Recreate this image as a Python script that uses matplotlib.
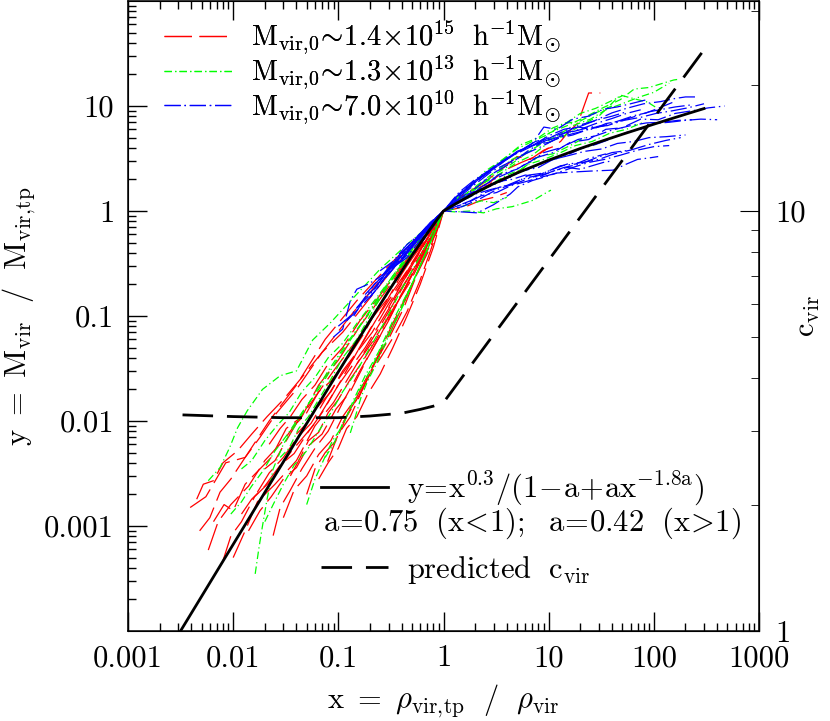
import matplotlib
matplotlib.use("Agg")
import matplotlib.pyplot as plt
from matplotlib.ticker import LogLocator, NullFormatter
from matplotlib.lines import Line2D

plt.rcParams["font.family"] = ["cmr10", "DejaVu Serif"]
plt.rcParams["mathtext.fontset"] = "cm"
plt.rcParams["axes.unicode_minus"] = False
plt.rcParams["axes.formatter.use_mathtext"] = True

# ---- data ----
# black curve y = x^0.3/(1-a+a x^-1.8a)
fit_x = [0.0031, 0.005, 0.01, 0.02, 0.03, 0.05, 0.1, 0.2, 0.3, 0.5, 0.7, 0.85, 1.0,
         1.3, 2, 3, 5, 10, 20, 30, 50, 100, 200, 300]
fit_y = [9.7e-5, 2.13e-4, 6.68e-4, 2.09e-3, 4.08e-3, 9.47e-3, 0.0294, 0.0903, 0.172,
         0.376, 0.614, 0.804, 1.0, 1.171, 1.485, 1.822, 2.30, 3.05, 3.94, 4.53, 5.37,
         6.71, 8.34, 9.45]

# predicted c_vir (right axis)
cvir_x = [0.0033, 0.01, 0.03, 0.1, 0.2, 0.4, 0.6, 0.8, 1.0, 330]
cvir_c = [3.27, 3.24, 3.22, 3.22, 3.25, 3.30, 3.37, 3.43, 3.50, 25.0]

# M_vir,0 ~ 1.4e15 tracks (red)
red_x = [
    [0.0039, 0.0055, 0.0085, 0.013, 0.022, 0.04, 0.075, 0.15, 0.3, 0.55, 1.0],
    [0.0058, 0.0072, 0.0095, 0.014, 0.02, 0.03, 0.05, 0.09, 0.17, 0.33, 0.6, 1.0],
    [0.0079, 0.0095, 0.012, 0.016, 0.022, 0.035, 0.06, 0.1, 0.18, 0.35, 0.65, 1.0],
    [0.01, 0.013, 0.017, 0.025, 0.04, 0.06, 0.09, 0.15, 0.25, 0.45, 0.7, 1.0],
    [0.024, 0.028, 0.035, 0.045, 0.06, 0.08, 0.11, 0.16, 0.25, 0.4, 0.65, 1.0],
    [0.05, 0.06, 0.075, 0.095, 0.12, 0.16, 0.22, 0.32, 0.5, 0.75, 1.0],
    [0.079, 0.1, 0.13, 0.17, 0.22, 0.3, 0.42, 0.6, 0.8, 1.0],
    [0.0048, 0.006, 0.0075, 0.0095, 0.013, 0.018, 0.026, 0.04, 0.07, 0.13, 0.25, 0.5, 1.0],
    [0.012, 0.015, 0.02, 0.028, 0.038, 0.05, 0.07, 0.1, 0.15, 0.24, 0.4, 0.7, 1.0],
    [0.017, 0.022, 0.03, 0.04, 0.055, 0.075, 0.1, 0.14, 0.2, 0.3, 0.5, 0.8, 1.0],
    [0.03, 0.038, 0.05, 0.065, 0.085, 0.11, 0.15, 0.2, 0.28, 0.4, 0.6, 1.0],
    [0.022, 0.028, 0.035, 0.045, 0.06, 0.08, 0.11, 0.16, 0.24, 0.38, 0.6, 1.0],
    [0.04, 0.05, 0.065, 0.085, 0.11, 0.15, 0.21, 0.3, 0.42, 0.6, 0.8, 1.0],
    [0.11, 0.13, 0.16, 0.2, 0.26, 0.34, 0.45, 0.6, 0.8, 1.0],
    [0.15, 0.22, 0.32, 0.48, 0.7, 1.0, 1.5, 2.3, 3.4, 5.0, 6.7, 9, 11, 13, 15, 19, 24, 31],
    [0.3, 0.5, 0.75, 1.0, 1.4, 2, 3, 4.5, 6],
    [0.0065, 0.0082, 0.01, 0.013, 0.017, 0.023, 0.032, 0.045, 0.065, 0.1, 0.16, 0.28, 0.5, 0.75, 1.0],
    [0.0045, 0.0052, 0.0065, 0.008, 0.011, 0.015, 0.021, 0.03, 0.045, 0.07, 0.11, 0.18, 0.32, 0.55, 1.0],
    [0.014, 0.018, 0.023, 0.03, 0.04, 0.052, 0.07, 0.095, 0.13, 0.19, 0.3, 0.5, 0.8, 1.0],
    [0.035, 0.042, 0.052, 0.065, 0.08, 0.1, 0.13, 0.17, 0.23, 0.32, 0.45, 0.65, 1.0],
    [0.065, 0.08, 0.1, 0.12, 0.15, 0.19, 0.25, 0.33, 0.45, 0.6, 0.8, 1.0],
    [0.02, 0.025, 0.032, 0.04, 0.05, 0.065, 0.085, 0.12, 0.17, 0.25, 0.38, 0.6, 1.0],
    [0.2, 0.3, 0.45, 0.7, 1.0, 1.4, 2, 2.8, 4, 5.5, 7.5, 10],
    [0.4, 0.6, 0.8, 1.0, 1.3, 1.7, 2.2, 3, 4],
]
red_y = [
    [0.0015, 0.0019, 0.0040, 0.0045, 0.010, 0.022, 0.06, 0.14, 0.3, 0.55, 1.0],
    [0.00059, 0.0011, 0.0016, 0.0024, 0.0042, 0.0065, 0.013, 0.03, 0.07, 0.2, 0.45, 1.0],
    [0.00045, 0.0008, 0.0011, 0.0019, 0.0026, 0.005, 0.0095, 0.022, 0.05, 0.15, 0.4, 1.0],
    [0.0005, 0.0009, 0.0017, 0.0025, 0.0042, 0.009, 0.015, 0.035, 0.08, 0.22, 0.5, 1.0],
    [0.00081, 0.0015, 0.0022, 0.0035, 0.0055, 0.008, 0.015, 0.03, 0.065, 0.16, 0.4, 1.0],
    [0.002, 0.0035, 0.005, 0.0065, 0.011, 0.018, 0.035, 0.08, 0.2, 0.45, 1.0],
    [0.0041, 0.0075, 0.011, 0.02, 0.035, 0.06, 0.12, 0.3, 0.55, 1.0],
    [0.0009, 0.0012, 0.0021, 0.0028, 0.0045, 0.007, 0.012, 0.02, 0.045, 0.1, 0.22, 0.5, 1.0],
    [0.0013, 0.0018, 0.0024, 0.0038, 0.0049, 0.0075, 0.012, 0.022, 0.045, 0.1, 0.25, 0.6, 1.0],
    [0.0021, 0.0032, 0.0045, 0.0068, 0.0095, 0.016, 0.025, 0.04, 0.075, 0.14, 0.3, 0.7, 1.0],
    [0.0012, 0.0022, 0.003, 0.0048, 0.0065, 0.011, 0.017, 0.03, 0.055, 0.12, 0.3, 1.0],
    [0.006, 0.0085, 0.011, 0.016, 0.022, 0.035, 0.05, 0.09, 0.15, 0.28, 0.5, 1.0],
    [0.0075, 0.0095, 0.014, 0.019, 0.03, 0.045, 0.07, 0.13, 0.22, 0.38, 0.6, 1.0],
    [0.0095, 0.013, 0.018, 0.028, 0.042, 0.065, 0.11, 0.22, 0.5, 1.0],
    [0.035, 0.06, 0.11, 0.21, 0.45, 1.0, 1.4, 1.8, 2.4, 3.3, 3.1, 3.8, 4.1, 4.6, 5.5, 6.9, 13.3, 13.3],
    [0.12, 0.3, 0.6, 1.0, 1.25, 1.5, 1.9, 2.2, 2.6],
    [0.0011, 0.0016, 0.0014, 0.0025, 0.0033, 0.0045, 0.0085, 0.011, 0.022, 0.038, 0.08, 0.17, 0.4, 0.65, 1.0],
    [0.0018, 0.0025, 0.0027, 0.004, 0.0052, 0.0075, 0.011, 0.016, 0.026, 0.045, 0.07, 0.13, 0.27, 0.5, 1.0],
    [0.0009, 0.0014, 0.0019, 0.0028, 0.0036, 0.0058, 0.0075, 0.013, 0.019, 0.04, 0.09, 0.25, 0.62, 1.0],
    [0.003, 0.0042, 0.0065, 0.0078, 0.012, 0.016, 0.025, 0.037, 0.06, 0.11, 0.2, 0.4, 1.0],
    [0.0028, 0.004, 0.0055, 0.0085, 0.011, 0.018, 0.028, 0.05, 0.1, 0.2, 0.45, 1.0],
    [0.0035, 0.0042, 0.0065, 0.0095, 0.012, 0.019, 0.024, 0.038, 0.065, 0.13, 0.25, 0.5, 1.0],
    [0.09, 0.15, 0.27, 0.55, 1.0, 1.2, 1.6, 1.9, 2.5, 2.9, 3.3, 4.0],
    [0.22, 0.42, 0.7, 1.0, 1.05, 1.12, 1.25, 1.35, 1.5],
]

# M_vir,0 ~ 1.3e13 tracks (green)
green_x = [
    [0.0058, 0.0075, 0.0092, 0.011, 0.0136, 0.019, 0.028, 0.04, 0.057, 0.084, 0.14, 0.25,
     0.45, 0.7, 1.0, 1.4, 2, 3, 4.5, 7, 10, 15, 22, 32, 48, 65, 90, 125, 155, 175],
    [0.0162, 0.0175, 0.019, 0.021, 0.024, 0.03, 0.04, 0.055, 0.08, 0.12, 0.2, 0.35, 0.6,
     1.0, 1.5, 2.2, 3.3, 5, 7, 10, 14, 20, 30, 48, 70, 87, 103],
    [0.0095, 0.012, 0.015, 0.019, 0.025, 0.033, 0.045, 0.065, 0.1, 0.16, 0.27, 0.45, 0.7,
     1.0, 1.3, 1.8, 2.4, 3.2, 4.5, 6, 7.2, 9, 10.5],
    [0.13, 0.145, 0.165, 0.19, 0.23, 0.28, 0.35, 0.45, 0.6, 0.8, 1.0, 1.3, 1.8, 2.7, 4,
     5.5, 8, 11, 16, 22],
    [0.05, 0.06, 0.072, 0.088, 0.11, 0.14, 0.18, 0.24, 0.33, 0.5, 0.75, 1.0, 1.4, 2, 3,
     4.2, 6, 8, 12, 17, 25, 35, 50, 70, 100, 140],
    [0.028, 0.034, 0.042, 0.052, 0.065, 0.085, 0.11, 0.15, 0.21, 0.3, 0.45, 0.7, 1.0, 1.3,
     1.7, 2.3, 3, 4],
    [0.012, 0.015, 0.02, 0.026, 0.034, 0.045, 0.06, 0.08, 0.11, 0.15, 0.22, 0.33, 0.5,
     0.75, 1.0, 1.4, 2, 2.8, 4, 5.5, 8, 11, 15, 20, 28, 38, 50],
    [0.075, 0.09, 0.11, 0.13, 0.16, 0.2, 0.25, 0.32, 0.42, 0.55, 0.75, 1.0, 1.4, 2, 3,
     4.5, 6.5, 9, 13, 18, 26, 38, 55, 80],
    [0.02, 0.024, 0.03, 0.038, 0.05, 0.065, 0.085, 0.11, 0.15, 0.2, 0.28, 0.4, 0.6, 1.0,
     1.3, 1.8, 2.5, 3.5, 5, 7, 10, 14, 20, 28, 40],
]
green_y = [
    [0.0027, 0.0036, 0.0055, 0.0086, 0.0125, 0.02, 0.027, 0.03, 0.059, 0.086, 0.15, 0.28,
     0.48, 0.7, 1.0, 1.3, 1.7, 2.3, 3.1, 3.8, 5.5, 6.5, 7.8, 9.5, 11.5, 14.5, 15, 16.6, 17.7, 18],
    [0.00035, 0.0006, 0.001, 0.0018, 0.0035, 0.006, 0.0095, 0.016, 0.03, 0.055, 0.11, 0.25,
     0.55, 1.0, 1.35, 1.75, 2.2, 2.9, 3.4, 4.5, 5.2, 6.5, 8.0, 12.7, 11.5, 10.9, 9.8],
    [0.0013, 0.0017, 0.0024, 0.0033, 0.0052, 0.0075, 0.012, 0.02, 0.04, 0.08, 0.18, 0.38,
     0.65, 1.0, 0.98, 1.0, 0.96, 1.05, 1.1, 1.2, 1.27, 1.45, 1.58],
    [0.0077, 0.011, 0.017, 0.024, 0.035, 0.055, 0.09, 0.16, 0.3, 0.58, 1.0, 1.2, 1.4, 1.75,
     2.2, 2.5, 3.3, 3.5, 4.2, 5.0],
    [0.0016, 0.0028, 0.0042, 0.0065, 0.009, 0.016, 0.027, 0.045, 0.09, 0.2, 0.5, 1.0, 1.25,
     1.6, 2.2, 2.7, 3.5, 4.2, 5.2, 6.5, 7.5, 9.2, 10.5, 12.0, 13.5, 16.5],
    [0.0045, 0.0055, 0.0085, 0.011, 0.016, 0.025, 0.04, 0.06, 0.11, 0.2, 0.35, 0.6, 1.0,
     1.05, 1.15, 1.25, 1.2, 1.35],
    [0.0035, 0.0042, 0.0065, 0.009, 0.012, 0.019, 0.026, 0.04, 0.055, 0.085, 0.14, 0.24,
     0.42, 0.68, 1.0, 1.4, 1.9, 2.5, 3.3, 4.3, 5.0, 6.2, 7.0, 8.5, 9.5, 11.0, 12.5],
    [0.0045, 0.006, 0.0095, 0.013, 0.02, 0.03, 0.048, 0.075, 0.13, 0.25, 0.5, 1.0, 1.2,
     1.45, 1.8, 2.2, 2.8, 3.1, 3.6, 4.2, 4.6, 5.5, 6.0, 7.0],
    [0.0011, 0.0016, 0.0025, 0.0038, 0.0052, 0.008, 0.012, 0.019, 0.03, 0.05, 0.09, 0.18,
     0.37, 1.0, 1.25, 1.7, 2.4, 3.0, 3.9, 4.6, 5.4, 6.8, 7.2, 8.6, 10.0],
]

# M_vir,0 ~ 7.0e10 tracks (blue)
blue_x = [
    [0.09, 0.11, 0.13, 0.15, 0.19, 0.24, 0.33, 0.45, 0.57, 0.75, 1.0, 1.5, 2.2, 3.3, 5,
     7.5, 11, 16, 24, 35, 50, 75, 110, 160, 230, 330, 470],
    [0.2, 0.27, 0.35, 0.5, 0.7, 1.0, 1.4, 2.1, 3, 4.5, 6.5, 9, 13, 19, 27, 40, 55, 80,
     115, 160, 200, 265],
    [0.3, 0.42, 0.6, 0.8, 1.0, 1.5, 2.1, 3, 4.3, 5.1, 7, 9, 12, 17, 25, 41, 55, 70, 90, 110],
    [0.25, 0.35, 0.5, 0.7, 1.0, 1.4, 2, 2.8, 4, 5.5, 8, 11, 16, 22, 32, 45, 65, 90, 130, 200],
    [0.15, 0.2, 0.28, 0.4, 0.55, 0.75, 1.0, 1.4, 1.9, 2.6, 3.6, 5, 7, 9, 12, 17, 24, 33,
     45, 60, 83],
    [0.4, 0.55, 0.75, 1.0, 1.3, 1.8, 2.5, 3.5, 5, 7, 10, 14, 20, 28, 40, 55, 75, 100, 140,
     200, 280, 400],
    [0.12, 0.16, 0.22, 0.3, 0.42, 0.6, 0.8, 1.0, 1.3, 1.7, 2.3, 3.2, 4.5, 6, 8, 11, 15,
     20, 26, 33, 40],
    [0.5, 0.7, 1.0, 1.4, 2, 2.8, 4, 5.5, 7.5, 10, 14, 19, 26, 35, 48, 65, 90, 120, 160, 220],
    [0.35, 0.5, 0.7, 1.0, 1.3, 1.7, 2.3, 3.2, 4.4, 6, 8.5, 12, 17, 24, 34, 48, 70, 100, 140],
    [0.18, 0.25, 0.35, 0.5, 0.7, 1.0, 1.3, 1.8, 2.5, 3.5, 5, 7, 10, 14, 20, 28, 40, 55],
    [0.6, 0.8, 1.0, 1.4, 2, 3, 4.5, 6.5, 9, 13, 19, 28, 40, 60, 85, 120, 170, 230],
    [0.25, 0.33, 0.45, 0.62, 0.8, 1.0, 1.5, 2.2, 3.2, 4.6, 6.5, 9, 13, 18, 25, 35],
    [0.14, 0.18, 0.23, 0.3, 0.4, 0.55, 0.75, 1.0, 1.4, 2, 2.8, 4, 5.5, 7.5, 10, 14, 20,
     28, 40, 55, 75],
    [0.45, 0.6, 0.8, 1.0, 1.3, 1.8, 2.5, 3.5, 5, 7, 10, 14, 20, 28, 40, 60, 90, 130, 180],
    [0.22, 0.3, 0.4, 0.55, 0.75, 1.0, 1.3, 1.7, 2.3, 3, 4, 5.5, 7.5, 10, 14, 19, 26, 35,
     48, 65, 85, 110, 150],
    [0.28, 0.38, 0.5, 0.65, 0.85, 1.0, 1.4, 2, 2.8, 4, 5.5, 8, 11, 15, 21, 30, 42, 60],
    [0.1, 0.13, 0.17, 0.22, 0.3, 0.42, 0.58, 0.8, 1.0, 1.4, 2, 2.9, 4.2, 6, 8.5, 12, 17,
     24, 34],
    [0.7, 0.85, 1.0, 1.4, 2, 3, 4.3, 6, 8.5, 12, 17, 25, 36, 52, 75, 105, 150, 210, 300],
]
blue_y = [
    [0.063, 0.075, 0.14, 0.18, 0.2, 0.23, 0.29, 0.36, 0.45, 0.65, 1.0, 1.35, 1.6, 2.2,
     2.5, 3.2, 3.6, 4.5, 4.8, 6.0, 6.2, 7.5, 7.4, 8.5, 9.0, 9.6, 10.0],
    [0.15, 0.22, 0.3, 0.45, 0.7, 1.0, 1.3, 1.7, 2.3, 2.9, 3.8, 4.6, 5.3, 6.5, 7.2, 8.6,
     9.5, 10.5, 11.0, 11.8, 12.2, 12.2],
    [0.25, 0.38, 0.55, 0.78, 1.0, 0.98, 0.96, 1.15, 1.45, 1.7, 1.95, 2.1, 2.3, 2.35, 2.4,
     2.45, 2.8, 3.1, 3.2, 3.3],
    [0.2, 0.32, 0.48, 0.7, 1.0, 1.2, 1.5, 1.8, 2.0, 2.4, 2.6, 3.1, 3.4, 3.7, 3.9, 4.4,
     4.6, 5.0, 5.1, 5.3],
    [0.12, 0.16, 0.25, 0.38, 0.52, 0.72, 1.0, 1.4, 1.8, 2.3, 2.9, 3.6, 4.4, 6.3, 6.0,
     7.5, 8.0, 9.3, 9.8, 10.5, 11.4],
    [0.35, 0.5, 0.72, 1.0, 1.15, 1.4, 1.65, 1.9, 2.3, 2.6, 3.0, 3.3, 3.9, 4.3, 4.9, 5.6,
     6.0, 6.8, 7.0, 7.3, 7.5, 7.4],
    [0.09, 0.12, 0.17, 0.26, 0.4, 0.58, 0.8, 1.0, 1.25, 1.45, 1.6, 1.9, 2.0, 2.2, 2.1,
     2.4, 2.6, 2.5, 2.7, 2.9, 3.0],
    [0.45, 0.68, 1.0, 1.4, 1.9, 2.4, 3.1, 3.8, 4.6, 4.9, 5.8, 6.3, 6.0, 6.8, 7.2, 7.9,
     8.8, 9.3, 9.8, 10.2],
    [0.3, 0.42, 0.63, 1.0, 1.1, 1.2, 1.4, 1.5, 1.75, 1.9, 2.1, 2.3, 2.6, 2.9, 3.1, 3.4,
     3.8, 4.1, 4.2],
    [0.16, 0.23, 0.35, 0.5, 0.72, 1.0, 1.35, 1.7, 2.3, 2.8, 3.7, 4.2, 5.2, 6.0, 6.4, 7.3,
     8.0, 8.8],
    [0.55, 0.78, 1.0, 1.25, 1.55, 2.0, 2.4, 2.9, 3.6, 4.0, 4.8, 5.2, 5.9, 6.5, 6.9, 7.0,
     7.3, 7.4],
    [0.27, 0.33, 0.48, 0.62, 0.82, 1.0, 1.1, 1.3, 1.6, 1.8, 2.2, 2.3, 2.7, 2.8, 3.2, 3.5],
    [0.1, 0.15, 0.19, 0.28, 0.35, 0.55, 0.75, 1.0, 1.45, 1.95, 2.5, 3.2, 3.8, 4.3, 5.0,
     5.5, 6.0, 6.8, 7.6, 8.5, 9.2],
    [0.4, 0.58, 0.8, 1.0, 1.1, 1.25, 1.5, 1.7, 1.85, 2.1, 2.3, 2.6, 2.8, 3.2, 3.6, 3.8,
     4.3, 4.7, 5.0],
    [0.18, 0.28, 0.4, 0.55, 0.78, 1.0, 1.3, 1.7, 2.1, 2.6, 3.2, 3.7, 4.3, 4.5, 5.2, 5.6,
     6.2, 6.6, 7.3, 8.1, 8.6, 9.5, 10.8],
    [0.26, 0.37, 0.5, 0.65, 0.86, 1.0, 1.2, 1.45, 1.6, 1.75, 2.0, 2.2, 2.5, 2.8, 2.9, 3.1,
     3.5, 3.8],
    [0.08, 0.1, 0.14, 0.2, 0.27, 0.36, 0.55, 0.78, 1.0, 1.35, 1.8, 2.4, 2.9, 3.5, 4.1,
     4.9, 5.3, 6.0, 6.5],
    [0.7, 0.85, 1.0, 1.5, 2.0, 2.6, 3.3, 4.0, 4.5, 5.0, 5.7, 6.3, 6.5, 7.3, 7.8, 8.5,
     9.0, 9.6, 10.5],
]

x_ticks = [1e-3, 1e-2, 1e-1, 1, 10, 100, 1000]
x_tick_labels = ["0.001", "0.01", "0.1", "1", "10", "100", "1000"]
y_ticks = [1e-3, 1e-2, 1e-1, 1, 10]
y_tick_labels = ["0.001", "0.01", "0.1", "1", "10"]
c_ticks = [1, 10]
c_tick_labels = ["1", "10"]

mass_labels = [
    r"$\mathrm{M_{vir,\!0}\!\sim\!1.4\!\times\!10^{15}\ \ h^{-1}M_{\odot}}$",
    r"$\mathrm{M_{vir,\!0}\!\sim\!1.3\!\times\!10^{13}\ \ h^{-1}M_{\odot}}$",
    r"$\mathrm{M_{vir,\!0}\!\sim\!7.0\!\times\!10^{10}\ \ h^{-1}M_{\odot}}$",
]

# ---- styles ----
red_style = dict(color="#ff0000", lw=0.9, dashes=(22, 6))
green_style = dict(color="#00ff00", lw=0.9, dashes=(6, 2.5, 1, 2.5))
blue_style = dict(color="#0000ff", lw=0.9, dashes=(13, 3, 1.2, 3))

fig = plt.figure(figsize=(8.3, 7.21), dpi=100)
ax = fig.add_axes([128 / 830, 90 / 721, 631 / 830, 630 / 721])

for xs, ys in zip(red_x, red_y):
    ax.plot(xs, ys, **red_style)
for xs, ys in zip(green_x, green_y):
    ax.plot(xs, ys, **green_style)
for xs, ys in zip(blue_x, blue_y):
    ax.plot(xs, ys, **blue_style)

ax.plot(fit_x, fit_y, color="black", lw=2.0, zorder=5)

ax.set_xscale("log")
ax.set_yscale("log")
ax.set_xlim(1e-3, 1e3)
ax.set_ylim(1e-4, 1e2)
ax.set_xticks(x_ticks, labels=x_tick_labels)
ax.set_yticks(y_ticks, labels=y_tick_labels)
ax.xaxis.set_minor_locator(LogLocator(base=10, subs=range(2, 10), numticks=20))
ax.yaxis.set_minor_locator(LogLocator(base=10, subs=range(2, 10), numticks=20))
ax.xaxis.set_minor_formatter(NullFormatter())
ax.yaxis.set_minor_formatter(NullFormatter())
ax.tick_params(which="both", direction="in", top=True, right=False, width=1.0,
               labelsize=22)
ax.tick_params(which="major", length=14, pad=10)
ax.tick_params(which="minor", length=6)
for sp in ax.spines.values():
    sp.set_linewidth(1.1)

ax.set_xlabel(r"$\mathrm{x\ =\ \rho_{vir,\!tp}\ \ /\ \ \rho_{vir}}$", fontsize=22, va="center")
ax.set_ylabel(r"$\mathrm{y\ =\ M_{vir}\ \ /\ \ M_{vir,\!tp}}$", fontsize=22, va="center")
ax.xaxis.set_label_coords(0.5, -0.112)
ax.yaxis.set_label_coords(-0.172, 0.5)

# right axis: concentration
ax2 = ax.twinx()
ax2.set_yscale("log")
ax2.set_ylim(1, 10 ** 1.5)
ax2.plot(cvir_x, cvir_c, color="black", lw=2.0, dashes=(11, 5))
ax2.set_yticks(c_ticks, labels=c_tick_labels)
ax2.yaxis.set_minor_locator(LogLocator(base=10, subs=range(2, 10), numticks=20))
ax2.yaxis.set_minor_formatter(NullFormatter())
ax2.tick_params(which="both", direction="in", labelsize=22)
ax2.tick_params(which="major", length=14, pad=12)
ax2.tick_params(which="minor", length=6)
ax2.set_ylabel(r"$\mathrm{c_{vir}}$", fontsize=22, rotation=90, va="center")
ax2.yaxis.set_label_coords(1.078, 0.5)

# legends
mass_handles = [Line2D([], [], **red_style), Line2D([], [], **green_style),
                Line2D([], [], **blue_style)]
leg1 = ax.legend(mass_handles, mass_labels, loc="upper left",
                 bbox_to_anchor=(0.057, 0.972), frameon=False, fontsize=20.5,
                 handlelength=2.4, handletextpad=0.65, labelspacing=-0.1,
                 borderpad=0, borderaxespad=0)
ax.add_artist(leg1)

fit_handles = [Line2D([], [], color="black", lw=2.0),
               Line2D([], [], color="none"),
               Line2D([], [], color="black", lw=2.0, dashes=(11, 5))]
fit_labels = [r"$\mathrm{y\!=\!x^{0.3}/(1\!-\!a\!+\!ax^{-1.8a})}$", " ",
              r"$\mathrm{predicted\ \ c_{vir}}$"]
ax2.legend(fit_handles, fit_labels, loc="upper left", bbox_to_anchor=(0.306, 0.257),
           frameon=False, fontsize=22, handlelength=2.2, handletextpad=0.6,
           labelspacing=0.3, borderpad=0, borderaxespad=0)
ax2.text(0.309, 0.171, r"$\mathrm{a\!=\!0.75\ \ (x\!<\!1);\ \ a\!=\!0.42\ \ (x\!>\!1)}$",
         transform=ax.transAxes, fontsize=22, va="center", ha="left")

fig.savefig("out.png", dpi=100)
